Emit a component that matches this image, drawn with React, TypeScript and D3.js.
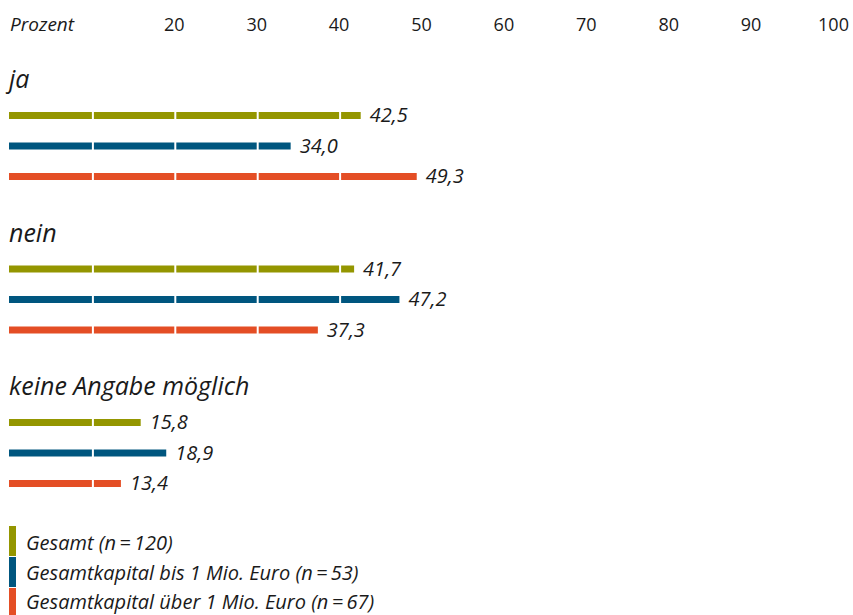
import React from "react";
import * as d3 from "d3";

const categories = ["ja", "nein", "keine Angabe möglich"];
const seriesNames = [
  "Gesamt (n\u2009=\u2009120)",
  "Gesamtkapital bis 1 Mio. Euro (n\u2009=\u200953)",
  "Gesamtkapital über 1 Mio. Euro (n\u2009=\u200967)",
];
const seriesColors = ["#949600", "#00567f", "#e44e25"];
// values[series][category]
const gesamt = [42.5, 41.7, 15.8];
const bis1Mio = [34.0, 47.2, 18.9];
const ueber1Mio = [49.3, 37.3, 13.4];
const values = [gesamt, bis1Mio, ueber1Mio];
const tickValues = [20, 30, 40, 50, 60, 70, 80, 90, 100];
const gapValues = [10, 20, 30, 40, 50, 60, 70, 80, 90];

const W = 853;
const H = 615;
const FONT = "'Open Sans', 'Noto Sans', sans-serif";

export default function App() {
  const x = d3.scaleLinear().domain([0, 100]).range([10.5, 834.5]);
  const groupY = d3.scaleLinear().domain([0, 1]).range([0, 153.5]);
  const barStep = 30.5;
  const firstBarCenter = 115.5;
  const barH = 7;
  const fmt = (v: number) => d3.format(".1f")(v).replace(".", ",");

  return (
    <svg width={W} height={H} style={{ position: "absolute", left: 0, top: 0, background: "#fff" }}>
      <g fontFamily={FONT}>
        {/* axis header */}
        <text x={10} y={31} fontSize={19} fontStyle="italic" fill="#1a1a1a">
          Prozent
        </text>
        {tickValues.map((t) => (
          <text key={t} x={x(t) - 1} y={31} fontSize={18} textAnchor="middle" fill="#1a1a1a">
            {t}
          </text>
        ))}

        {categories.map((cat, ci) => {
          const gy = groupY(ci);
          return (
            <g key={cat}>
              <text x={9} y={88 + gy} fontSize={25} fontStyle="italic" fill="#1a1a1a">
                {cat}
              </text>
              {values.map((series, si) => {
                const v = series[ci];
                const cy = firstBarCenter + gy + si * barStep;
                const x0 = x(0) - 1.5;
                const x1 = x(v);
                return (
                  <g key={si}>
                    <rect x={x0} y={cy - barH / 2} width={x1 - x0} height={barH} fill={seriesColors[si]} />
                    {gapValues
                      .filter((g) => x(g) + 1 < x1)
                      .map((g) => (
                        <rect key={g} x={x(g) - 1} y={cy - barH / 2 - 0.5} width={2} height={barH + 1} fill="#fff" />
                      ))}
                    <text x={x1 + 9} y={cy + 6.5} fontSize={20} fontStyle="italic" fill="#1a1a1a">
                      {fmt(v)}
                    </text>
                  </g>
                );
              })}
            </g>
          );
        })}

        {/* legend */}
        {seriesNames.map((name, si) => (
          <g key={name}>
            <rect x={9} y={526 + si * 31} width={7} height={30} fill={seriesColors[si]} />
            <text x={26} y={550 + si * 29.5} fontSize={20} fontStyle="italic" fill="#1a1a1a">
              {name}
            </text>
          </g>
        ))}
      </g>
    </svg>
  );
}
